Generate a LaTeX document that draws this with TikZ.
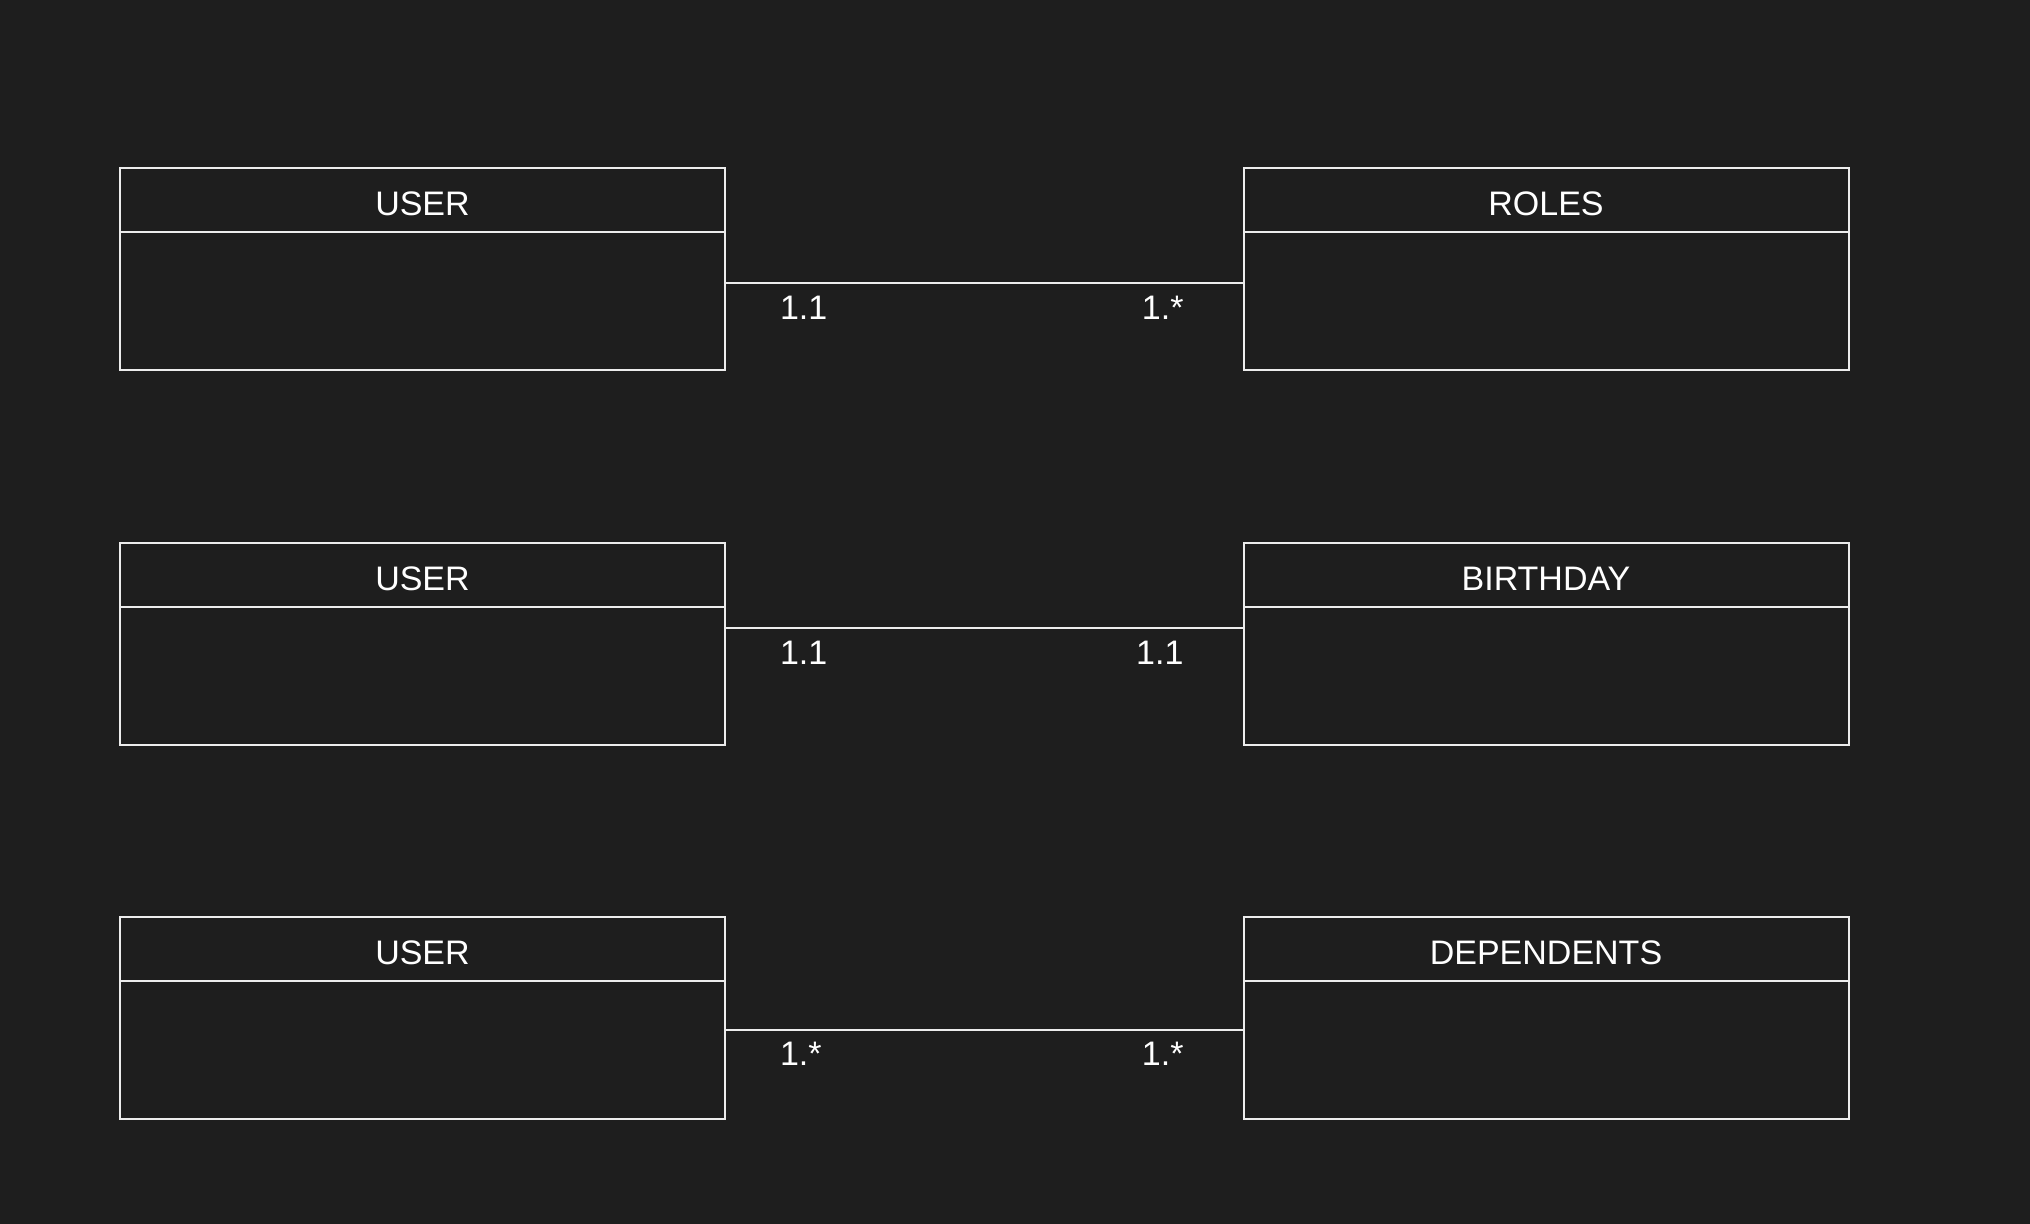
\documentclass[tikz,border=0pt]{standalone}
\usepackage{fontspec}
\setmainfont{Liberation Sans}
\usetikzlibrary{positioning}
\definecolor{sfondo}{RGB}{30,30,30}
\definecolor{linea}{RGB}{236,236,236}
\begin{document}
\begin{tikzpicture}[x=0.5pt,y=-0.5pt]
    % Stili
    \tikzset{
        head/.style={rectangle, draw=linea, line width=1pt, text=white, minimum width=302.5pt, minimum height=32pt, inner sep=0pt, outer sep=0pt, text height=16pt, font=\fontsize{17}{20}\selectfont},
        body/.style={rectangle, draw=linea, line width=1pt, minimum width=302.5pt, minimum height=69pt, inner sep=0pt, outer sep=0pt},
        conn/.style={draw=linea, line width=1pt},
        mult/.style={text=white, inner sep=0pt, font=\fontsize{17}{20}\selectfont}
    }

    % Sfondo
    \fill[sfondo] (0,0) rectangle (2030,1224);
    \useasboundingbox (0,0) rectangle (2030,1224);

    % Prima riga: USER - ROLES
    \node[head] (uh1) at (422.5,200) {USER};
    \node[body, below=0pt of uh1] (ub1) {};
    \node[head] (rh1) at (1546,200) {ROLES};
    \node[body, below=0pt of rh1] (rb1) {};

    % Seconda riga: USER - BIRTHDAY
    \node[head] (uh2) at (422.5,575) {USER};
    \node[body, below=0pt of uh2] (ub2) {};
    \node[head] (rh2) at (1546,575) {BIRTHDAY};
    \node[body, below=0pt of rh2] (rb2) {};

    % Terza riga: USER - DEPENDENTS
    \node[head] (uh3) at (422.5,948.5) {USER};
    \node[body, below=0pt of uh3] (ub3) {};
    \node[head] (rh3) at (1546,948.5) {DEPENDENTS};
    \node[body, below=0pt of rh3] (rb3) {};

    % Relazioni
    \draw[conn] ([yshift=8.75pt]ub1.east) -- node[mult, pos=0, anchor=west, xshift=27pt, yshift=-12pt] {1.1}
        node[mult, pos=1, anchor=east, xshift=-29.5pt, yshift=-12pt] {1.*} ([yshift=8.75pt]rb1.west);
    \draw[conn] ([yshift=23.75pt]ub2.east) -- node[mult, pos=0, anchor=west, xshift=27pt, yshift=-12pt] {1.1}
        node[mult, pos=1, anchor=east, xshift=-29.5pt, yshift=-12pt] {1.1} ([yshift=23.75pt]rb2.west);
    \draw[conn] ([yshift=9.9pt]ub3.east) -- node[mult, pos=0, anchor=west, xshift=27pt, yshift=-12pt] {1.*}
        node[mult, pos=1, anchor=east, xshift=-29.5pt, yshift=-12pt] {1.*} ([yshift=9.9pt]rb3.west);
\end{tikzpicture}
\end{document}
